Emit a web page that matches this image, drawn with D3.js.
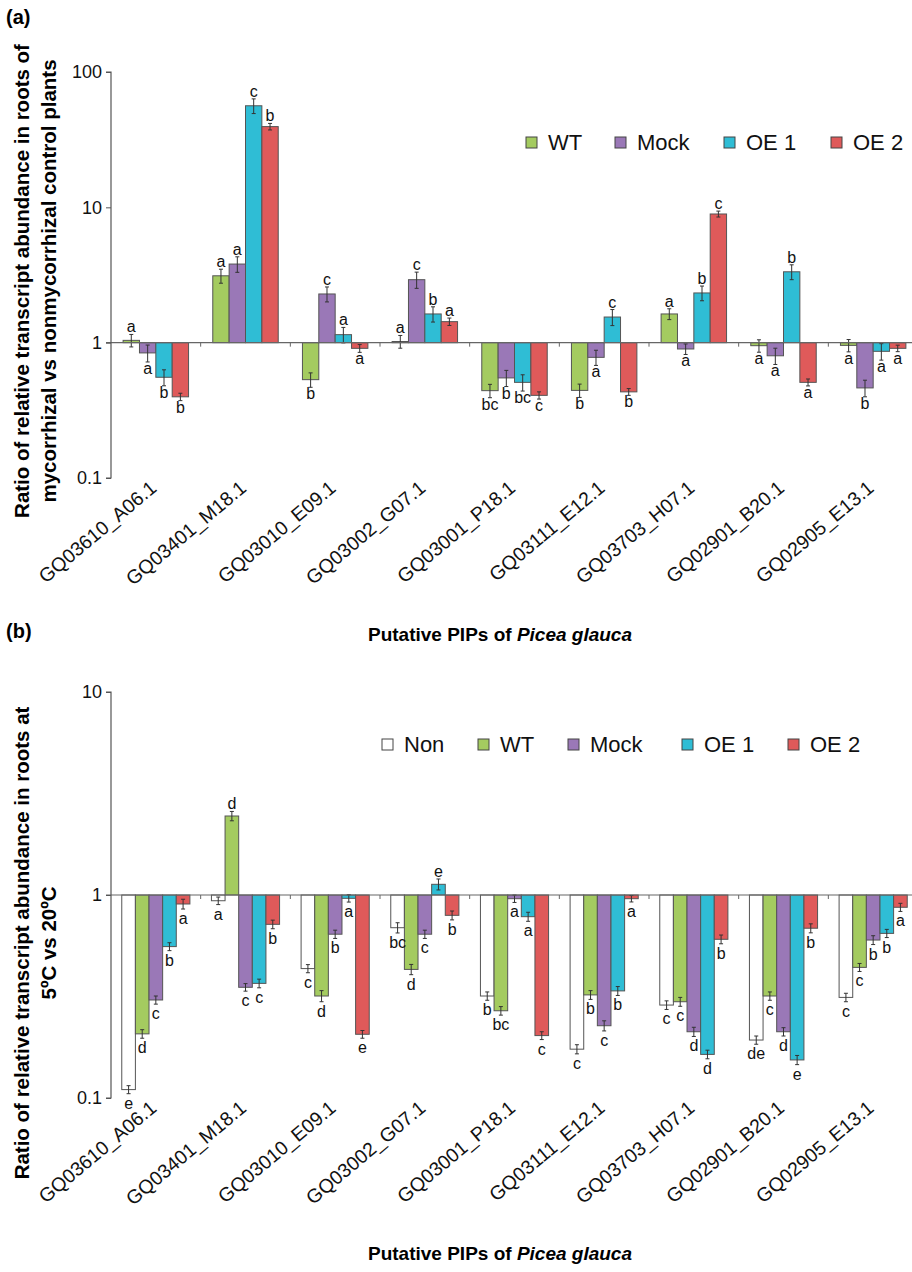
<!DOCTYPE html>
<html>
<head>
<meta charset="utf-8">
<script src="https://cdn.jsdelivr.net/npm/d3@7"></script>
<style>
  body { margin: 0; background: #fff; }
  svg text { font-family: "Liberation Sans", Arial, sans-serif; }
</style>
</head>
<body>
<svg width="912" height="1272"></svg>
<script>
const genes = ["GQ03610_A06.1", "GQ03401_M18.1", "GQ03010_E09.1", "GQ03002_G07.1",
  "GQ03001_P18.1", "GQ03111_E12.1", "GQ03703_H07.1", "GQ02901_B20.1", "GQ02905_E13.1"];

// panel (a): mycorrhizal vs nonmycorrhizal
const seriesA = ["WT", "Mock", "OE 1", "OE 2"];
const wtA = [1.04, 3.12, 0.533, 1.02, 0.442, 0.444, 1.63, 0.95, 0.955];
const mockA = [0.84, 3.81, 2.29, 2.92, 0.549, 0.779, 0.898, 0.80, 0.463];
const oe1A = [0.555, 56.3, 1.146, 1.63, 0.509, 1.547, 2.33, 3.34, 0.863];
const oe2A = [0.398, 39.5, 0.908, 1.43, 0.408, 0.433, 8.93, 0.509, 0.908];
const wtErrA = [0.11, 0.37, 0.065, 0.11, 0.05, 0.05, 0.15, 0.1, 0.1];
const mockErrA = [0.12, 0.5, 0.29, 0.4, 0.075, 0.1, 0.08, 0.11, 0.065];
const oe1ErrA = [0.075, 7, 0.15, 0.21, 0.07, 0.21, 0.29, 0.42, 0.12];
const oe2ErrA = [0.025, 2.2, 0.06, 0.09, 0.025, 0.025, 0.45, 0.03, 0.05];
const wtLetA = ["a", "a", "b", "a", "bc", "b", "a", "a", "a"];
const mockLetA = ["a", "a", "c", "c", "b", "a", "a", "a", "b"];
const oe1LetA = ["b", "c", "a", "b", "bc", "c", "b", "b", "a"];
const oe2LetA = ["b", "b", "a", "a", "c", "b", "c", "a", "a"];
const ticksA = [0.1, 1, 10, 100];

// panel (b): 5ºC vs 20ºC
const seriesB = ["Non", "WT", "Mock", "OE 1", "OE 2"];
const nonB = [0.110, 0.937, 0.434, 0.690, 0.318, 0.174, 0.287, 0.193, 0.313];
const wtB = [0.207, 2.45, 0.318, 0.430, 0.269, 0.322, 0.298, 0.318, 0.440];
const mockB = [0.304, 0.351, 0.641, 0.641, 0.959, 0.227, 0.212, 0.212, 0.600];
const oe1B = [0.557, 0.367, 0.963, 1.129, 0.782, 0.337, 0.164, 0.154, 0.647];
const oe2B = [0.903, 0.717, 0.206, 0.794, 0.203, 0.959, 0.605, 0.686, 0.870];
const nonErrB = [0.005, 0.04, 0.02, 0.04, 0.015, 0.009, 0.014, 0.009, 0.015];
const wtErrB = [0.01, 0.13, 0.02, 0.025, 0.013, 0.016, 0.015, 0.015, 0.02];
const mockErrB = [0.014, 0.015, 0.03, 0.03, 0.04, 0.013, 0.011, 0.01, 0.03];
const oe1ErrB = [0.025, 0.018, 0.04, 0.07, 0.04, 0.017, 0.008, 0.008, 0.03];
const oe2ErrB = [0.05, 0.035, 0.009, 0.04, 0.009, 0.035, 0.03, 0.035, 0.04];
const nonLetB = ["e", "a", "c", "bc", "b", "c", "c", "de", "c"];
const wtLetB = ["d", "d", "d", "d", "bc", "b", "c", "c", "c"];
const mockLetB = ["c", "c", "b", "c", "a", "c", "d", "d", "b"];
const oe1LetB = ["b", "c", "a", "e", "a", "b", "d", "e", "b"];
const oe2LetB = ["a", "b", "e", "b", "c", "a", "b", "b", "a"];
const ticksB = [0.1, 1, 10];

const colors = { "Non": "#ffffff", "WT": "#a4cb60", "Mock": "#9a78b7", "OE 1": "#2fbdd5", "OE 2": "#df5a5a" };

const svg = d3.select("svg");

function drawPanel(p) {
  const g = svg.append("g");
  const y = d3.scaleLog().domain(p.yDomain).range([p.bottom, p.top]);
  const x = d3.scaleBand().domain(genes).range([111, 918]);
  const xs = d3.scaleBand().domain(p.series).range([0, x.bandwidth()])
    .paddingInner(0).paddingOuter(p.outer);

  // rows: one per gene x series
  const rows = [];
  genes.forEach((gene, i) => {
    p.series.forEach((s, j) => {
      rows.push({ gene, s, v: p.values[j][i], e: p.errs[j][i], l: p.letters[j][i] });
    });
  });

  const y1 = y(1);

  g.selectAll("rect.bar").data(rows).enter().append("rect")
    .attr("class", "bar")
    .attr("x", (d) => x(d.gene) + xs(d.s))
    .attr("width", xs.bandwidth())
    .attr("y", (d) => Math.min(y(d.v), y1))
    .attr("height", (d) => Math.abs(y(d.v) - y1))
    .attr("fill", (d) => colors[d.s])
    .attr("stroke", "#555")
    .attr("stroke-width", 1);

  // error bars
  const eb = g.selectAll("g.err").data(rows).enter().append("g")
    .attr("class", "err")
    .attr("transform", (d) => `translate(${x(d.gene) + xs(d.s) + xs.bandwidth() / 2},0)`)
    .attr("stroke", "#333").attr("stroke-width", 1);
  eb.append("line").attr("x1", 0).attr("x2", 0)
    .attr("y1", (d) => y(d.v + d.e)).attr("y2", (d) => y(d.v - d.e));
  eb.append("line").attr("x1", -2).attr("x2", 2)
    .attr("y1", (d) => y(d.v + d.e)).attr("y2", (d) => y(d.v + d.e));
  eb.append("line").attr("x1", -2).attr("x2", 2)
    .attr("y1", (d) => y(d.v - d.e)).attr("y2", (d) => y(d.v - d.e));

  // baseline at 1 with group ticks
  g.append("line").attr("x1", 106).attr("x2", 912)
    .attr("y1", y1).attr("y2", y1).attr("stroke", "#666").attr("stroke-width", 1.2);
  g.selectAll("line.gt").data(genes.slice(1)).enter().append("line")
    .attr("class", "gt")
    .attr("x1", (d) => x(d)).attr("x2", (d) => x(d))
    .attr("y1", y1).attr("y2", y1 + 4)
    .attr("stroke", "#666");

  // significance letters
  g.selectAll("text.let").data(rows).enter().append("text")
    .attr("class", "let")
    .attr("x", (d) => x(d.gene) + xs(d.s) + xs.bandwidth() / 2)
    .attr("y", (d) => d.v >= 1 ? y(d.v + d.e) - 2 : y(d.v - d.e) + p.below)
    .attr("text-anchor", "middle")
    .attr("font-size", 16)
    .attr("fill", "#111")
    .text((d) => d.l);

  // y axis
  const yAxis = d3.axisLeft(y).tickValues(p.ticks).tickSize(5).tickPadding(4)
    .tickFormat((d) => d3.format("~g")(d));
  const ya = g.append("g").attr("transform", "translate(111,0)").call(yAxis);
  ya.select(".domain").attr("stroke", "#555").attr("stroke-width", 1.2)
    .attr("d", `M-5,${p.top}H0V${p.bottom}H-5`);
  ya.selectAll(".tick line").attr("stroke", "#555");
  ya.selectAll(".tick text").attr("font-size", 18).attr("fill", "#111")
    .style("font-family", "Liberation Sans, Arial, sans-serif");

  // category labels
  g.selectAll("text.cat").data(genes).enter().append("text")
    .attr("class", "cat")
    .attr("transform", (d) => `translate(${x(d) + x.bandwidth() / 2 + 2},${p.bottom + 12}) rotate(-40)`)
    .attr("text-anchor", "end")
    .attr("font-size", 19.5)
    .attr("fill", "#111")
    .text((d) => d);

  // x title
  const xt = g.append("text").attr("x", 500).attr("y", p.xTitleY)
    .attr("text-anchor", "middle").attr("font-size", 19).attr("font-weight", "bold");
  xt.append("tspan").text("Putative PIPs of ");
  xt.append("tspan").attr("font-style", "italic").text("Picea glauca");

  // y title
  const yt = g.append("text")
    .attr("transform", `translate(0,${p.yTitleY}) rotate(-90)`)
    .attr("text-anchor", "middle").attr("font-size", 20.5).attr("font-weight", "bold");
  p.yTitle.forEach((t, i) => {
    yt.append("tspan").attr("x", 0).attr("y", 29 + i * 27).text(t);
  });

  // panel tag
  g.append("text").attr("x", 6).attr("y", p.tagY)
    .attr("font-size", 20).attr("font-weight", "bold").text(p.tag);

  // legend
  const lg = g.selectAll("g.leg").data(p.series).enter().append("g")
    .attr("class", "leg")
    .attr("transform", (d, i) => `translate(${p.legX[i]},${p.legY})`);
  lg.append("rect").attr("x", 0).attr("y", -11).attr("width", 11).attr("height", 11)
    .attr("fill", (d) => colors[d]).attr("stroke", "#444");
  lg.append("text").attr("x", 22).attr("y", 2).attr("font-size", 22).attr("fill", "#111")
    .text((d) => d);
}

drawPanel({
  series: seriesA,
  values: [wtA, mockA, oe1A, oe2A],
  errs: [wtErrA, mockErrA, oe1ErrA, oe2ErrA],
  letters: [wtLetA, mockLetA, oe1LetA, oe2LetA],
  yDomain: [0.1, 100], top: 72, bottom: 478, ticks: ticksA,
  outer: 0.74, below: 12,
  xTitleY: 641, yTitleY: 281, tag: "(a)", tagY: 24,
  yTitle: ["Ratio of relative transcript abundance in roots of",
    "mycorrhizal vs nonmycorrhizal control plants"],
  legX: [526, 615, 724, 831], legY: 148
});

drawPanel({
  series: seriesB,
  values: [nonB, wtB, mockB, oe1B, oe2B],
  errs: [nonErrB, wtErrB, mockErrB, oe1ErrB, oe2ErrB],
  letters: [nonLetB, wtLetB, mockLetB, oe1LetB, oe2LetB],
  yDomain: [0.1, 10], top: 692, bottom: 1098, ticks: ticksB,
  outer: 0.79, below: 15,
  xTitleY: 1260, yTitleY: 943, tag: "(b)", tagY: 638,
  yTitle: ["Ratio of relative transcript abundance in roots at", "5ºC vs 20ºC"],
  legX: [382, 478, 568, 682, 788], legY: 750
});
</script>
</body>
</html>
